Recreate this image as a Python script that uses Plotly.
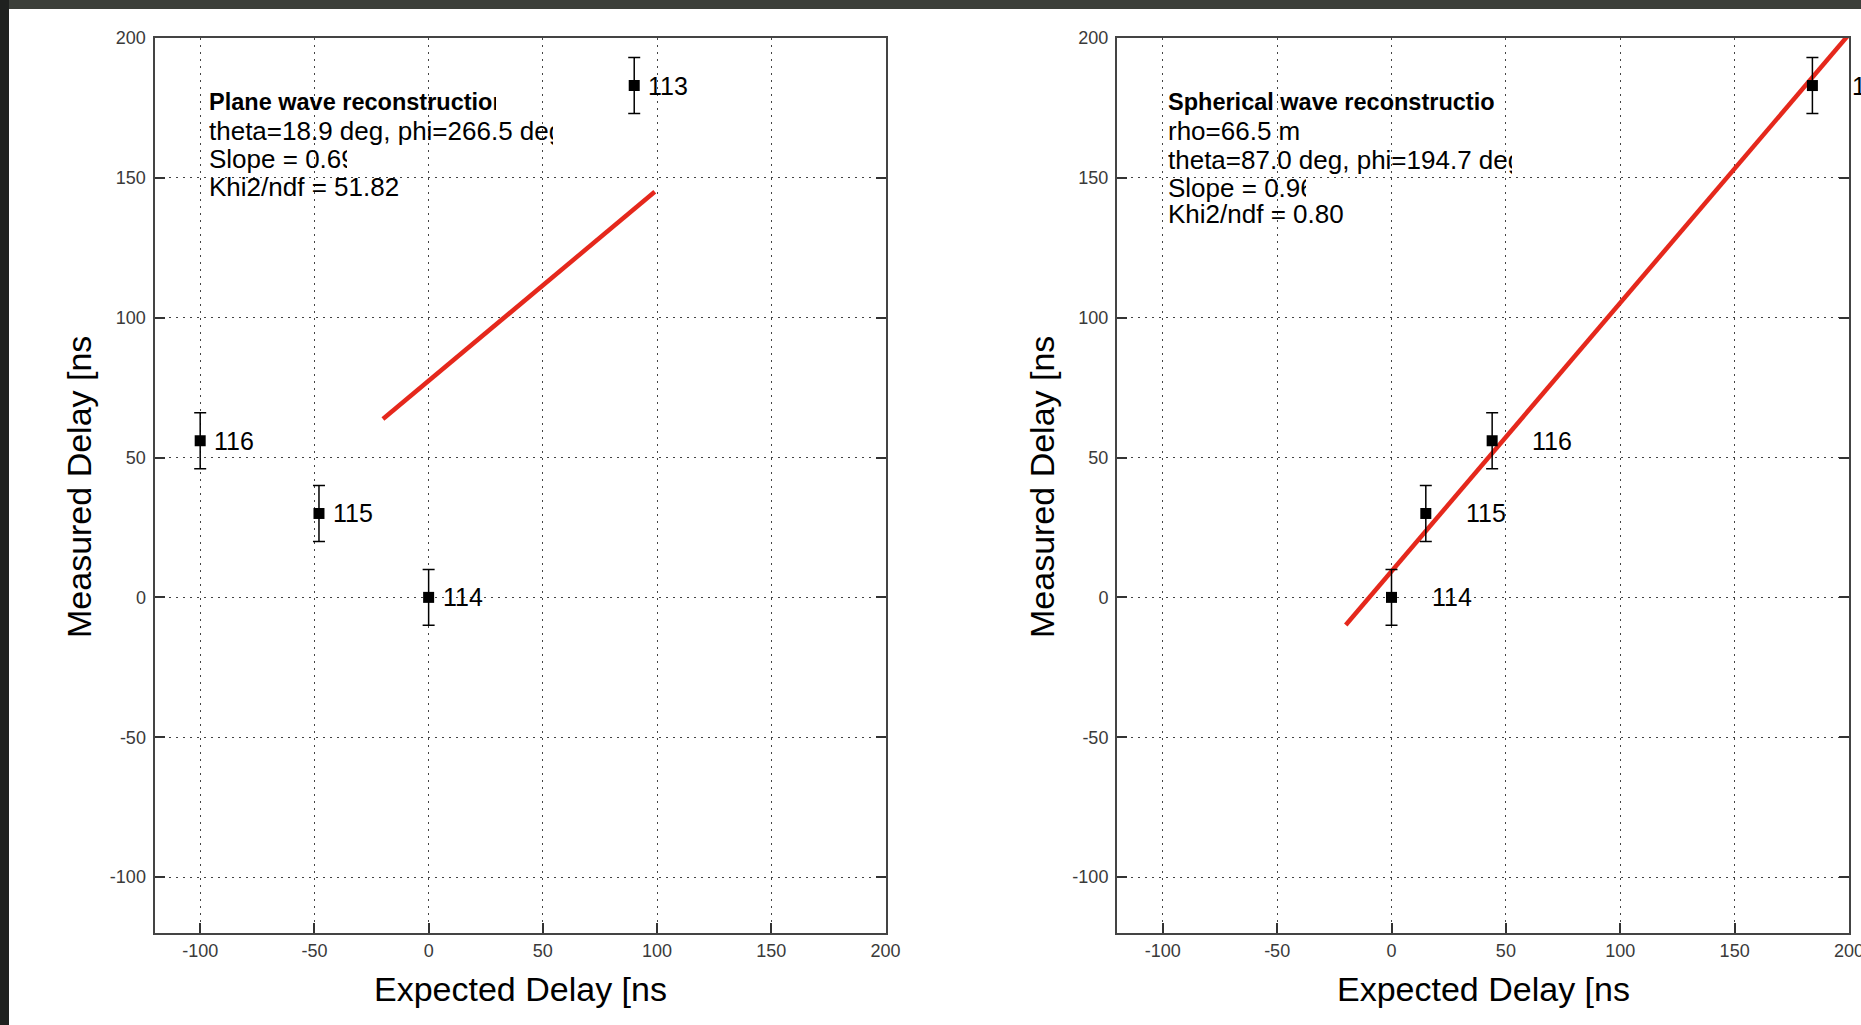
import plotly.graph_objects as go

# ---------------- data ----------------
station_labels = ["113", "114", "115", "116"]
measured_delay = [183, 0, 30, 56]
measured_err = [10, 10, 10, 10]
expected_plane = [90, 0, -48, -100]
expected_sphere = [184, 0, 15, 44]

fit_plane_x = [-20, 99]
fit_plane_y = [63.8, 145]
fit_sphere_x = [-20, 200]
fit_sphere_y = [-9.9, 201.3]

plane_text = ["<b>Plane wave reconstruction</b>",
              "theta=18.9 deg, phi=266.5 deg",
              "Slope = 0.69",
              "Khi2/ndf = 51.82"]
sphere_text = ["<b>Spherical wave reconstruction</b>",
               "rho=66.5 m",
               "theta=87.0 deg, phi=194.7 deg",
               "Slope = 0.96",
               "Khi2/ndf = 0.80"]

tick_vals = [-100, -50, 0, 50, 100, 150, 200]
tick_text = ["-100", "-50", "0", "50", "100", "150", "200"]
x_title = "Expected Delay [ns"
y_title = "Measured Delay [ns"

# ---------------- layout constants ----------------
W, H = 1861, 1025
FONT = "Liberation Sans, Arial, sans-serif"
AX_RANGE = [-120, 200]
PLOT_TOP, PLOT_BOT = 38, 933
LEFT_X = (154.5, 885.5)
RIGHT_X = (1117, 1849)

def fx(p):
    return p / W

def fy(p):
    return 1 - p / H

def ydata(ypx):
    return AX_RANGE[1] - (ypx - PLOT_TOP) * (AX_RANGE[1] - AX_RANGE[0]) / (PLOT_BOT - PLOT_TOP)

fig = go.Figure()

def add_panel(xref, yref, ex, label_shift):
    fig.add_trace(go.Scatter(
        x=ex, y=measured_delay, mode="markers",
        marker=dict(symbol="square", size=11, color="black"),
        error_y=dict(type="data", array=measured_err, visible=True,
                     color="black", thickness=1.5, width=6),
        xaxis=xref, yaxis=yref, showlegend=False, hoverinfo="skip"))
    for lab, xv, yv in zip(station_labels, ex, measured_delay):
        fig.add_annotation(x=xv, y=yv, xref=xref, yref=yref, text=lab,
                           showarrow=False, xanchor="left", yanchor="middle",
                           xshift=label_shift,
                           font=dict(family=FONT, size=25, color="black"))

# fit lines (drawn below points)
fig.add_trace(go.Scatter(x=fit_plane_x, y=fit_plane_y, mode="lines",
                         line=dict(color="#e5281c", width=4.5),
                         xaxis="x", yaxis="y", showlegend=False, hoverinfo="skip"))
fig.add_trace(go.Scatter(x=fit_sphere_x, y=fit_sphere_y, mode="lines",
                         line=dict(color="#e5281c", width=4.5),
                         xaxis="x2", yaxis="y2", showlegend=False, hoverinfo="skip"))

add_panel("x", "y", expected_plane, 12)
add_panel("x2", "y2", expected_sphere, 38)

axis_common = dict(
    range=AX_RANGE, tickvals=tick_vals, ticktext=tick_text,
    ticks="inside", ticklen=10, tickwidth=1.5,
    tickcolor="#333", showline=True, linecolor="#444", linewidth=2,
    showgrid=True, gridcolor="#444", gridwidth=1, griddash="2px,5px",
    zeroline=False, tickfont=dict(family=FONT, size=18, color="#3a3a3a"),
    fixedrange=True, ticklabeloverflow="allow",
)

lay = dict(
    width=W, height=H, margin=dict(l=0, r=0, t=0, b=0, autoexpand=False),
    paper_bgcolor="white", plot_bgcolor="rgba(0,0,0,0)",
    showlegend=False,
    xaxis=dict(domain=[fx(LEFT_X[0]), fx(LEFT_X[1])], anchor="y", mirror=True,
               ticklabelstandoff=0, **axis_common),
    yaxis=dict(domain=[fy(PLOT_BOT), fy(PLOT_TOP)], anchor="x", mirror="ticks",
               ticklabelstandoff=3, **axis_common),
    xaxis2=dict(domain=[fx(RIGHT_X[0]), fx(RIGHT_X[1])], anchor="y2", mirror=True,
                ticklabelstandoff=0, **axis_common),
    yaxis2=dict(domain=[fy(PLOT_BOT), fy(PLOT_TOP)], anchor="x2", mirror="ticks",
                ticklabelstandoff=3, **axis_common),
)

# ---------------- text boxes, each line clipped like the original ----------------
# (start px, clip px, centre-y px, font size)
plane_lines = [(209, 496, 104.5, 23.5), (209, 553, 133, 26), (209, 347, 161, 26), (209, 700, 189, 26)]
sphere_lines = [(1168, 1495, 104.5, 23.5), (1168, 1600, 133.5, 26), (1168, 1512, 162, 26),
                (1168, 1306, 190, 26), (1168, 1600, 216.5, 26)]

idx = 3
for texts, geo in ((plane_text, plane_lines), (sphere_text, sphere_lines)):
    for t, (x0, x1, yc, fs) in zip(texts, geo):
        lay[f"xaxis{idx}"] = dict(domain=[fx(x0), fx(x1)], range=[0, 1], visible=False,
                                  anchor=f"y{idx}", fixedrange=True)
        lay[f"yaxis{idx}"] = dict(domain=[fy(PLOT_BOT), fy(PLOT_TOP)], range=AX_RANGE,
                                  visible=False, anchor=f"x{idx}", fixedrange=True)
        fig.add_trace(go.Scatter(x=[0], y=[ydata(yc)], mode="text", text=[t],
                                 textposition="middle right", cliponaxis=True,
                                 textfont=dict(family=FONT, size=fs, color="black"),
                                 xaxis=f"x{idx}", yaxis=f"y{idx}",
                                 showlegend=False, hoverinfo="skip"))
        idx += 1

fig.update_layout(**lay)

# axis titles
for cx in ((LEFT_X[0] + LEFT_X[1]) / 2, (RIGHT_X[0] + RIGHT_X[1]) / 2):
    fig.add_annotation(x=fx(cx), y=fy(989), xref="paper", yref="paper", text=x_title,
                       showarrow=False, xanchor="center", yanchor="middle",
                       font=dict(family=FONT, size=34, color="black"))
for cx in (79, 1042):
    fig.add_annotation(x=fx(cx), y=fy(487), xref="paper", yref="paper", text=y_title,
                       textangle=-90, showarrow=False, xanchor="center", yanchor="middle",
                       font=dict(family=FONT, size=34, color="black"))

# dark slide background edges
fig.add_shape(type="rect", xref="paper", yref="paper", x0=0, x1=1, y0=fy(9), y1=1,
              fillcolor="#3c3f3a", line=dict(width=0), layer="above")
fig.add_shape(type="rect", xref="paper", yref="paper", x0=0, x1=fx(9), y0=0, y1=1,
              fillcolor="#1f211f", line=dict(width=0), layer="above")

fig.write_html(
    "out.html",
    config={"responsive": False, "displayModeBar": False},
    post_script="document.body.style.margin='0';"
                "document.body.style.overflow='hidden';"
                "document.documentElement.style.overflow='hidden';",
)
